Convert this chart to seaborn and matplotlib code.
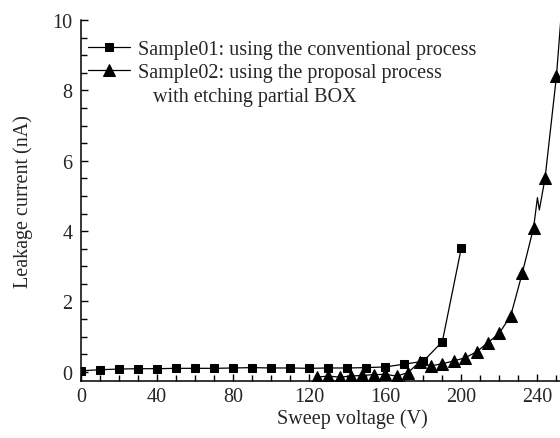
import numpy as np
import seaborn as sns
import matplotlib.pyplot as plt
from matplotlib.ticker import MultipleLocator

# Sample01: conventional process (markers at every point)
v1 = [0, 10, 20, 30, 40, 50, 60, 70, 80, 90, 100,
      110, 120, 130, 140, 150, 160, 170, 180, 190, 200]
i1 = [0.03, 0.06, 0.08, 0.09, 0.09, 0.10, 0.10, 0.10, 0.11, 0.12, 0.11,
      0.11, 0.10, 0.11, 0.11, 0.12, 0.14, 0.22, 0.30, 0.86, 3.53]

# Sample02: proposal process (measured curve, markers on every 6 V point)
v2 = [124, 130, 136, 142, 148, 154, 160, 166, 172, 178, 184, 190,
      196, 202, 208, 214, 220, 226, 232, 238, 240, 241, 244, 250, 253]
i2 = [-0.15, -0.12, -0.15, -0.12, -0.10, -0.08, -0.07, -0.12, -0.02, 0.28,
      0.17, 0.23, 0.31, 0.40, 0.57, 0.83, 1.10, 1.60, 2.80, 4.10,
      4.95, 4.60, 5.50, 8.40, 10.5]
marked2 = [0, 1, 2, 3, 4, 5, 6, 7, 8, 9, 10, 11, 12, 13, 14, 15, 16,
           17, 18, 19, 22, 23]

x_ticks = [0, 40, 80, 120, 160, 200, 240]

label1 = "Sample01: using the conventional process"
label2 = "Sample02: using the proposal process"
label2b = "   with etching partial BOX"

sns.set_style("ticks")
plt.rcParams["font.family"] = ["Liberation Serif", "DejaVu Serif"]

fig = plt.figure(figsize=(5.6, 4.39), dpi=100)
ax = fig.add_axes([81 / 560, 57 / 439, 542 / 560, 361 / 439])

sns.lineplot(x=v1, y=i1, ax=ax, color="black", lw=0.9, marker="s",
             markersize=6.3, mec="black", label=label1, sort=False)
sns.lineplot(x=v2, y=i2, ax=ax, color="black", lw=0.9, marker="^",
             markersize=9, mec="black", markevery=marked2,
             label=label2, sort=False)
# empty entry carrying the second line of the Sample02 label
ax.plot([], [], color="none", label=label2b)

ax.set_xlim(0, 285)
ax.set_ylim(-0.26, 10)
ax.set_xticks(x_ticks)
ax.xaxis.set_minor_locator(MultipleLocator(10))
ax.yaxis.set_major_locator(MultipleLocator(2))
ax.yaxis.set_minor_locator(MultipleLocator(0.5))
ax.tick_params(which="both", direction="in", color="black", width=1)
ax.tick_params(which="major", length=5, labelsize=14.5)
ax.tick_params(which="minor", length=4)
ax.tick_params(axis="y", pad=6)
ax.tick_params(axis="x", pad=4)
sns.despine(ax=ax)
for s in ["left", "bottom"]:
    ax.spines[s].set_color("black")
    ax.spines[s].set_linewidth(1.1)

ax.set_xlabel("Sweep voltage (V)", fontsize=14.5)
ax.set_ylabel("Leakage current (nA)", fontsize=14.5)
ax.yaxis.set_label_coords(-0.088, 0.5)
ax.xaxis.set_label_coords(0.5, -0.075)

ax.legend(loc="upper left", bbox_to_anchor=(0.012, 0.945), frameon=False,
          fontsize=14.5, handlelength=2.1, handletextpad=0.4,
          borderpad=0, borderaxespad=0, labelspacing=0.22)

fig.savefig("out.png", dpi=100)
